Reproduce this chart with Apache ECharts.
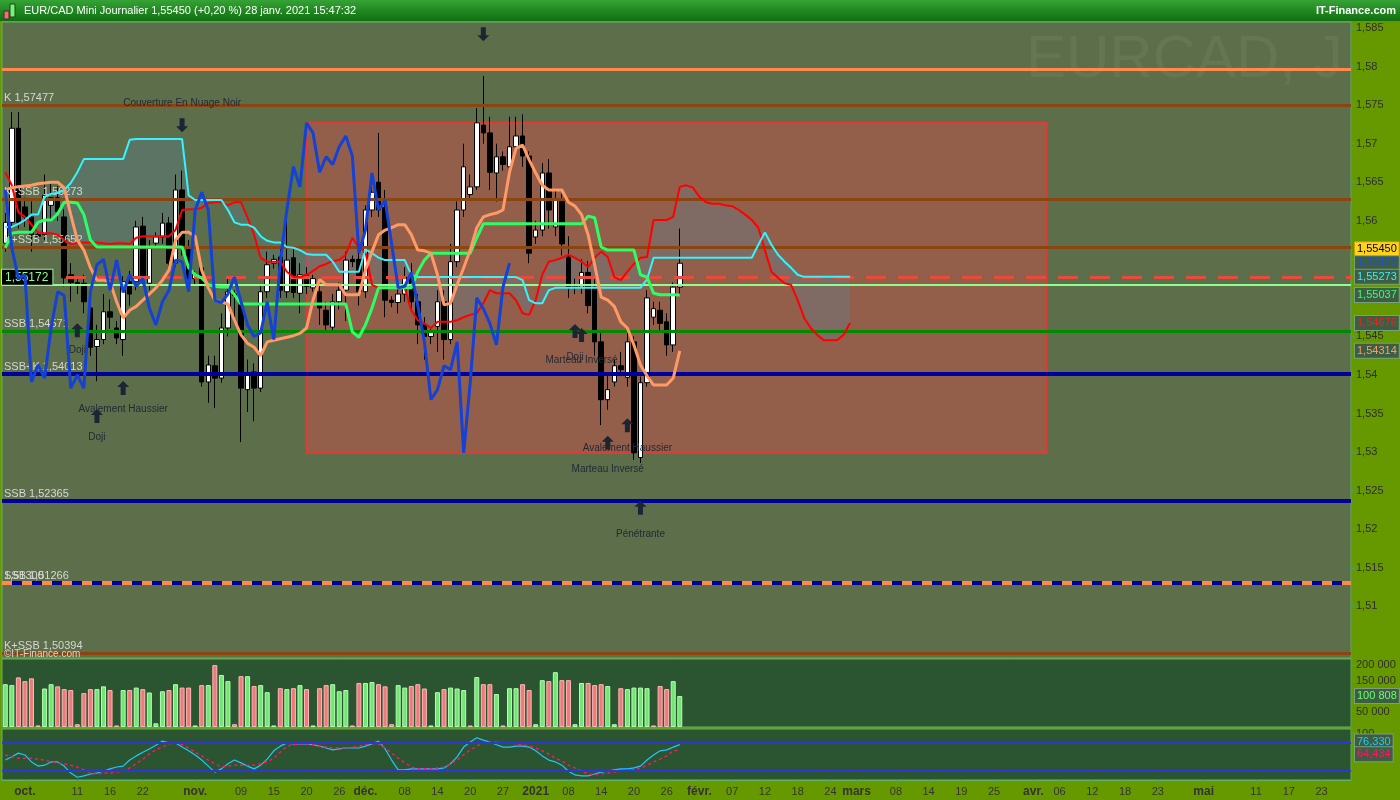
<!DOCTYPE html>
<html><head><meta charset="utf-8">
<script src="https://cdn.jsdelivr.net/npm/echarts@6/dist/echarts.min.js"></script>
<style>html,body{margin:0;padding:0;background:#669900;}#c{width:1400px;height:800px;}</style>
</head><body><div id="c"></div>
<script>
// ---------- DATA ----------
const opens = [1.5571,1.5598,1.5720,1.5618,1.5605,1.5582,1.5582,1.5620,1.5630,1.5605,
1.5530,1.5520,1.5519,1.5487,1.5437,1.5446,1.5482,1.5461,1.5446,1.5521,
1.5521,1.5593,1.5519,1.5571,1.5579,1.5597,1.5545,1.5640,1.5565,1.5525,
1.5539,1.5391,1.5412,1.5396,1.5461,1.5505,1.5491,1.5381,1.5404,1.5383,
1.5508,1.5545,1.5553,1.5508,1.5552,1.5506,1.5530,1.5513,1.5508,1.5484,
1.5462,1.5495,1.5510,1.5550,1.5550,1.5508,1.5614,1.5650,1.5617,1.5497,
1.5494,1.5505,1.5527,1.5495,1.5465,1.5450,1.5463,1.5495,1.5446,1.5547,
1.5614,1.5634,1.5644,1.5724,1.5714,1.5662,1.5683,1.5670,1.5696,1.5710,
1.5684,1.5579,1.5588,1.5662,1.5592,1.5625,1.5553,1.5513,1.5514,1.5533,
1.5514,1.5443,1.5368,1.5391,1.5412,1.5397,1.5443,1.5293,1.5390,1.5475,
1.5484,1.5469,1.5439,1.5514];
const closes = [1.5598,1.5720,1.5598,1.5605,1.5582,1.5580,1.5633,1.5630,1.5612,1.5526,
1.5520,1.5518,1.5495,1.5436,1.5446,1.5482,1.5475,1.5448,1.5521,1.5505,
1.5592,1.5526,1.5565,1.5579,1.5597,1.5545,1.5640,1.5565,1.5525,1.5530,
1.5391,1.5413,1.5396,1.5461,1.5508,1.5503,1.5383,1.5400,1.5383,1.5508,
1.5543,1.5550,1.5510,1.5549,1.5507,1.5530,1.5515,1.5525,1.5487,1.5465,
1.5495,1.5510,1.5549,1.5547,1.5508,1.5614,1.5637,1.5614,1.5497,1.5494,
1.5505,1.5527,1.5495,1.5465,1.5450,1.5455,1.5495,1.5446,1.5547,1.5614,
1.5670,1.5644,1.5727,1.5714,1.5663,1.5683,1.5673,1.5696,1.5710,1.5684,
1.5558,1.5588,1.5662,1.5614,1.5627,1.5570,1.5513,1.5515,1.5533,1.5490,
1.5443,1.5368,1.5381,1.5412,1.5407,1.5443,1.5299,1.5390,1.5500,1.5486,
1.5467,1.5439,1.5514,1.5545];
const highs = [1.5610,1.5741,1.5741,1.5630,1.5625,1.5586,1.5660,1.5648,1.5645,1.5615,
1.5545,1.5525,1.5530,1.5500,1.5465,1.5505,1.5498,1.5470,1.5528,1.5535,
1.5600,1.5605,1.5575,1.5585,1.5610,1.5605,1.5660,1.5665,1.5575,1.5535,
1.5545,1.5425,1.5425,1.5480,1.5525,1.5510,1.5498,1.5420,1.5415,1.5515,
1.5560,1.5556,1.5565,1.5600,1.5565,1.5545,1.5540,1.5530,1.5520,1.5495,
1.5505,1.5520,1.5560,1.5555,1.5560,1.5620,1.5660,1.5714,1.5640,1.5502,
1.5515,1.5540,1.5545,1.5505,1.5475,1.5460,1.5510,1.5510,1.5570,1.5625,
1.5700,1.5660,1.5746,1.5788,1.5735,1.5700,1.5690,1.5735,1.5735,1.5738,
1.5690,1.5600,1.5675,1.5680,1.5640,1.5635,1.5580,1.5525,1.5550,1.5548,
1.5525,1.5455,1.5400,1.5420,1.5430,1.5460,1.5450,1.5398,1.5510,1.5495,
1.5495,1.5480,1.5520,1.5590];
const lows = [1.5560,1.5592,1.5590,1.5592,1.5560,1.5576,1.5575,1.5600,1.5600,1.5515,
1.5495,1.5505,1.5480,1.5425,1.5392,1.5440,1.5460,1.5440,1.5425,1.5490,
1.5510,1.5515,1.5510,1.5565,1.5570,1.5535,1.5540,1.5555,1.5510,1.5518,
1.5385,1.5364,1.5357,1.5390,1.5450,1.5470,1.5313,1.5352,1.5340,1.5378,
1.5500,1.5538,1.5500,1.5500,1.5500,1.5480,1.5505,1.5508,1.5465,1.5455,
1.5455,1.5485,1.5470,1.5540,1.5490,1.5500,1.5605,1.5605,1.5475,1.5488,
1.5480,1.5495,1.5485,1.5440,1.5420,1.5440,1.5430,1.5420,1.5440,1.5540,
1.5605,1.5628,1.5640,1.5700,1.5640,1.5625,1.5665,1.5660,1.5685,1.5670,
1.5545,1.5570,1.5580,1.5590,1.5580,1.5555,1.5500,1.5505,1.5505,1.5480,
1.5425,1.5335,1.5355,1.5385,1.5400,1.5385,1.5290,1.5286,1.5385,1.5465,
1.5455,1.5425,1.5430,1.5505];
const volumes = [139000,136000,161000,149000,158000,5000,125000,139000,132000,123000,
120000,9000,110000,123000,123000,132000,120000,5000,120000,120000,
128000,123000,112000,12000,116000,120000,139000,128000,128000,5000,
136000,136000,201000,169000,149000,9000,165000,165000,133000,136000,
113000,5000,126000,123000,126000,136000,123000,5000,126000,136000,
139000,116000,120000,5000,143000,143000,146000,139000,132000,9000,
136000,128000,133000,139000,125000,5000,113000,123000,128000,125000,
120000,5000,162000,139000,139000,107000,5000,126000,126000,139000,
120000,9000,152000,149000,178000,152000,152000,9000,143000,143000,
136000,139000,133000,9000,126000,123000,128000,128000,126000,5000,
133000,123000,149000,100808];
const volumeUp = [1,1,0,0,0,0,1,1,0,0, 0,0,0,0,1,1,0,0,1,0, 1,0,1,1,1,0,1,0,0,1,
0,1,0,1,1,0,0,1,0,1, 1,1,0,1,0,1,0,1,0,0, 1,1,1,0,0,1,1,0,0,0,
1,1,0,0,0,1,1,0,1,1, 1,0,1,0,0,1,0,1,1,0, 0,1,1,0,1,0,0,1,1,0,
0,0,1,1,0,1,1,1,1,0, 0,0,1,1];
const tenkan = [1.5640,1.5643,1.5644,1.5645,1.5646,1.5648,1.5649,1.5650,1.5650,1.5643,
1.5608,1.5575,1.5562,1.5539,1.5523,1.5523,1.5521,1.5495,1.5474,1.5484,
1.5489,1.5497,1.5505,1.5513,1.5523,1.5536,1.5575,1.5585,1.5585,1.5580,
1.5536,1.5513,1.5497,1.5495,1.5492,1.5471,1.5452,1.5441,1.5436,1.5425,
1.5443,1.5445,1.5447,1.5449,1.5451,1.5454,1.5461,1.5497,1.5524,1.5517,
1.5517,1.5517,1.5504,1.5504,1.5504,1.5536,1.5560,1.5582,1.5588,1.5591,
1.5595,1.5595,1.5582,1.5562,1.5561,1.5558,1.5530,1.5491,1.5493,1.5517,
1.5539,1.5562,1.5591,1.5605,1.5608,1.5610,1.5614,1.5663,1.5694,1.5698,
1.5679,1.5662,1.5646,1.5640,1.5640,1.5640,1.5624,1.5619,1.5608,1.5582,
1.5543,1.5501,1.5497,1.5489,1.5469,1.5461,1.5439,1.5413,1.5399,1.5387,
1.5387,1.5387,1.5396,1.54314];
const kijun = [1.5565,1.5584,1.5585,1.5585,1.5585,1.5598,1.5601,1.5601,1.5609,1.5624,
1.5624,1.5623,1.5608,1.5575,1.5566,1.5566,1.5566,1.5566,1.5566,1.5566,
1.5566,1.5566,1.5566,1.5566,1.5566,1.5566,1.5566,1.5566,1.5539,1.5530,
1.5526,1.5517,1.5515,1.5514,1.5514,1.5504,1.5492,1.5492,1.5492,1.5492,
1.5492,1.5492,1.5492,1.5492,1.5492,1.5492,1.5492,1.5492,1.5492,1.5492,
1.5492,1.5492,1.5492,1.5456,1.5449,1.5465,1.5487,1.5513,1.5513,1.5513,
1.5513,1.5513,1.5513,1.5534,1.5549,1.5558,1.5558,1.5558,1.5558,1.5558,
1.5558,1.5558,1.5578,1.5596,1.5596,1.5596,1.5596,1.5596,1.5596,1.5596,
1.5596,1.5596,1.5596,1.5596,1.5596,1.5596,1.5596,1.5596,1.5596,1.5606,
1.5604,1.5566,1.5562,1.5562,1.5562,1.5562,1.5562,1.5530,1.5527,1.5506,
1.5504,1.5504,1.5504,1.55037];
const senkouA = [1.5663,1.5646,1.5611,1.5605,1.5595,1.5585,1.5584,1.5584,1.5582,1.5575,
1.5570,1.5571,1.5572,1.5572,1.5572,1.5571,1.5570,1.5571,1.5571,1.5570,
1.5578,1.5580,1.5580,1.5580,1.5580,1.5580,1.5588,1.5614,1.5615,1.5615,
1.5617,1.5623,1.5624,1.5624,1.5620,1.5624,1.5624,1.5604,1.5582,1.5552,
1.5547,1.5547,1.5547,1.5534,1.5527,1.5527,1.5530,1.5535,1.5541,1.5544,
1.5548,1.5549,1.5556,1.5578,1.5565,1.5560,1.5517,1.5513,1.5513,1.5513,
1.5513,1.5513,1.5484,1.5471,1.5467,1.5461,1.5469,1.5469,1.5469,1.5471,
1.5475,1.5478,1.5480,1.5493,1.5510,1.5506,1.5506,1.5506,1.5497,1.5480,
1.5478,1.5497,1.5530,1.5547,1.5549,1.5552,1.5556,1.5552,1.5547,1.5540,
1.5552,1.5560,1.5553,1.5527,1.5523,1.5534,1.5544,1.5552,1.5553,1.5601,
1.5601,1.5601,1.5605,1.5644,1.5646,1.5643,1.5631,1.5624,1.5622,1.5622,
1.5620,1.5619,1.5614,1.5608,1.5601,1.5591,1.5562,1.5534,1.5526,1.5519,
1.5517,1.5497,1.5474,1.5461,1.5452,1.5445,1.5445,1.5445,1.5452,1.54676];
const senkouB = [1.5592,1.5592,1.5596,1.5601,1.5608,1.5608,1.5631,1.5635,1.5636,1.5640,
1.5649,1.5663,1.5680,1.5680,1.5680,1.5680,1.5680,1.5680,1.5680,1.5705,
1.5706,1.5706,1.5706,1.5706,1.5706,1.5706,1.5706,1.5706,1.5633,1.5627,
1.5627,1.5627,1.5627,1.5627,1.5614,1.5598,1.5595,1.5595,1.5591,1.5580,
1.5574,1.5572,1.5572,1.5566,1.5565,1.5562,1.5557,1.5556,1.5556,1.5556,
1.5547,1.5534,1.5534,1.5534,1.5534,1.5563,1.5558,1.5552,1.5549,1.5549,
1.5549,1.5549,1.5530,1.5527,1.5527,1.5527,1.5527,1.5527,1.5527,1.5527,
1.5527,1.5527,1.5527,1.5527,1.5527,1.5527,1.5527,1.5527,1.5527,1.5523,
1.5497,1.5493,1.5493,1.5510,1.5513,1.5513,1.5513,1.5513,1.5513,1.5513,
1.5513,1.5513,1.5513,1.5513,1.5513,1.5513,1.5513,1.5513,1.5524,1.5552,
1.5552,1.5552,1.5552,1.5552,1.5552,1.5552,1.5552,1.5552,1.5552,1.5552,
1.5552,1.5552,1.5552,1.5552,1.5552,1.5569,1.5585,1.5569,1.5556,1.5547,
1.5539,1.5530,1.55273,1.55273,1.55273,1.55273,1.55273,1.55273,1.55273,1.55273];
const stochK = [43,50,58,54,39,30,32,39,39,30, 15,6,9,13,15,19,24,28,30,43,
52,60,67,75,84,80,80,71,63,54, 43,30,17,24,35,43,37,30,24,32,
45,63,73,80,78,78,78,76,73,69, 65,67,69,69,69,73,78,84,67,43,
22,22,24,24,24,24,24,26,35,50, 71,82,91,86,82,76,71,71,73,73,
71,63,52,43,39,32,19,11,9,9, 13,17,19,22,24,24,26,30,43,54,
63,65,71,76.33];
const stochD = [54,50,47,47,47,45,43,39,37,35, 32,28,22,15,13,15,15,17,19,26,
35,45,56,65,71,78,80,76,69,60, 52,43,35,28,30,32,32,32,32,35,
39,47,60,73,76,78,78,76,73,71, 69,69,69,71,73,76,78,78,69,58,
47,37,28,24,24,24,26,28,35,43, 54,65,73,80,82,82,80,80,78,76,
73,69,63,56,47,41,32,26,19,13, 11,13,15,17,19,22,22,26,32,39,
45,52,63,64.434];
const chikouShift = 26;
const slotCount = 206;
const xTickLabels = [[3,'oct.'],[11,'11'],[16,'16'],[21,'22'],[29,'nov.'],[36,'09'],[41,'15'],[46,'20'],[51,'26'],
[55,'déc.'],[61,'08'],[66,'14'],[71,'20'],[76,'27'],[81,'2021'],[86,'08'],[91,'14'],[96,'20'],[101,'26'],
[106,'févr.'],[111,'07'],[116,'12'],[121,'18'],[126,'24'],[130,'mars'],[136,'08'],[141,'14'],[146,'19'],[151,'25'],
[157,'avr.'],[161,'06'],[166,'12'],[171,'18'],[176,'23'],[183,'mai'],[191,'11'],[196,'17'],[201,'23']];
const boldLabels = ['oct.','nov.','déc.','2021','févr.','mars','avr.','mai'];
const priceTicks = [1.51,1.515,1.52,1.525,1.53,1.535,1.54,1.545,1.55,1.555,1.56,1.565,1.57,1.575,1.58,1.585];
const volumeTicks = [50000,100000,150000,200000];
const oscTicks = [100];
const oscLevels = [80,20];
const levels = [
  {value:1.5797, text:'', kind:'orange'},
  {value:1.5750, text:'K 1,57477', kind:'brown'},
  {value:1.56273, text:'K+SSB 1,56273', kind:'brown'},
  {value:1.55652, text:'K+SSB 1,55652', kind:'brown'},
  {value:1.5527, text:'', kind:'reddash'},
  {value:1.55172, text:'1,55172', kind:'lightgreen'},
  {value:1.54571, text:'SSB 1,54571', kind:'green'},
  {value:1.54013, text:'SSB+K 1,54013', kind:'navy'},
  {value:1.52365, text:'SSB 1,52365', kind:'navy'},
  {value:1.5130, text:'SSB 1,51266', kind:'navy'},
  {value:1.5130, text:'1,51300', kind:'orangedash'},
  {value:1.50394, text:'K+SSB 1,50394', kind:'brown'}
];
const zone = {from:46, to:159, top:1.5727, bottom:1.5299};
const priceTags = [
  {value:1.5545, kind:'last'}, {value:1.5545, kind:'chikou'}, {value:1.55273, kind:'ssb'},
  {value:1.55037, kind:'kijun'}, {value:1.54676, kind:'ssa'}, {value:1.54314, kind:'tenkan'}
];
const annotations = [
  {i:27, price:1.5724, dir:'down', text:'Couverture En Nuage Noir', gap:10},
  {i:73, price:1.5842, dir:'down', text:'', gap:10},
  {i:11, price:1.5458, dir:'up', text:'Doji', gap:8},
  {i:18, price:1.5383, dir:'up', text:'Avalement Haussier', gap:9},
  {i:14, price:1.5347, dir:'up', text:'Doji', gap:9},
  {i:87, price:1.5457, dir:'up', text:'Doji', gap:14},
  {i:88, price:1.5452, dir:'up', text:'Marteau Inversé', gap:13},
  {i:95, price:1.5335, dir:'up', text:'Avalement Haussier', gap:11},
  {i:92, price:1.5312, dir:'up', text:'Marteau Inversé', gap:14},
  {i:97, price:1.5228, dir:'up', text:'Pénétrante', gap:15}
];

// ---------- STYLES ----------
const FONT = "'Liberation Sans', Arial, sans-serif";
const levelStyles = {
  orange: {color:'#ff8a4c', width:3, type:'solid'},
  brown: {color:'#8a4510', width:3, type:'solid'},
  reddash: {color:'#e84a3c', width:3, type:[20,12]},
  lightgreen: {color:'#8cff8c', width:2, type:'solid'},
  green: {color:'#008a00', width:3, type:'solid'},
  navy: {color:'#00009c', width:4, type:'solid'},
  orangedash: {color:'#ff8a4c', width:4, type:[10,10]}
};
const tagStyles = {
  last: {bg:'#ffd21f', fg:'#000000', border:'#c8a000', offset:-14},
  chikou: {bg:'#3c5e44', fg:'#1c4cff', border:'#79a079', offset:0},
  ssb: {bg:'#3c5e44', fg:'#35f0ff', border:'#79a079', offset:0},
  kijun: {bg:'#3c5e44', fg:'#3cff6a', border:'#79a079', offset:0},
  ssa: {bg:'#3c5e44', fg:'#ff1a1a', border:'#79a079', offset:0},
  tenkan: {bg:'#3c5e44', fg:'#ff9a66', border:'#79a079', offset:0}
};
const fmtPrice5 = v => v.toFixed(5).replace('.', ',');
const fmtThousands = v => String(Math.round(v)).replace(/\B(?=(\d{3})+(?!\d))/g, ' ');

// ---------- BUILD ----------
const cats = Array.from({length: slotCount}, (_, i) => String(i));
const labelMap = {};
xTickLabels.forEach(([i, t]) => { labelMap[i] = t; });
const candleData = opens.map((o, i) => [o, closes[i], lows[i], highs[i]]);
const chikou = closes.slice(chikouShift);
const cloudBase = senkouA.map((a, i) => Math.min(a, senkouB[i]));
const cloudBand = senkouA.map((a, i) => Math.abs(a - senkouB[i]));
const volData = volumes.map((v, i) => ({
  value: v,
  itemStyle: volumeUp[i] ? {color:'#74e474', borderColor:'#b4ffb4', borderWidth:1}
                         : {color:'#ec7c7c', borderColor:'#ffb8b8', borderWidth:1}
}));
const arrowPath = 'path://M6,0 L12,6 L8.5,6 L8.5,14 L3.5,14 L3.5,6 L0,6 Z';

const levelLines = levels.map(l => {
  const st = levelStyles[l.kind];
  const item = {yAxis: l.value, lineStyle: {color: st.color, width: st.width, type: st.type}};
  if (l.kind === 'lightgreen') {
    item.label = {show:true, position:'insideStartTop', distance:0, formatter:l.text, color:'#8cff8c',
      backgroundColor:'#000000', borderColor:'#8cff8c', borderWidth:1, padding:[2,4,1,3], fontSize:12, fontFamily:FONT};
  } else if (l.text) {
    item.label = {show:true, position:'insideStartTop', distance:[2,2], formatter:l.text, color:'#d6d6d6', fontSize:11, fontFamily:FONT};
  } else {
    item.label = {show:false};
  }
  return item;
});

const tagLine = (value, text, st) => ({
  yAxis: value, lineStyle: {width:1, color:'rgba(0,0,0,0)'},
  label: {show:true, position:'end', distance:4, formatter:text, color:st.fg, backgroundColor:st.bg,
    borderColor:st.border, borderWidth:1, padding:[2,2,1,2], fontSize:11, fontFamily:FONT, offset:[0, st.offset||0]}
});

const priceTagLines = priceTags.map(t => tagLine(t.value, fmtPrice5(t.value), tagStyles[t.kind]));

const annotationPoints = annotations.map(a => ({
  coord: [a.i, a.price], symbol: arrowPath, symbolSize: [12,14], symbolRotate: a.dir === 'down' ? 180 : 0,
  itemStyle: {color:'#1b2634'},
  label: {show: !!a.text, formatter: a.text, position: a.dir === 'down' ? 'top' : 'bottom', distance: a.gap,
    color:'#232a36', fontSize:10, fontFamily:FONT}
}));

const hiddenX = (gi) => ({type:'category', gridIndex:gi, data:cats, boundaryGap:true, show:false});

const option = {
  animation: false,
  backgroundColor: '#669900',
  grid: [
    {left:2, right:49, top:22, height:636, show:true, backgroundColor:'#5c6e4a', borderColor:'#62b262', borderWidth:1},
    {left:2, right:49, top:659, height:68, show:true, backgroundColor:'#2b5431', borderColor:'#62b262', borderWidth:1},
    {left:2, right:49, top:729, height:51, show:true, backgroundColor:'#2b5431', borderColor:'#62b262', borderWidth:1}
  ],
  xAxis: [
    hiddenX(0), hiddenX(1),
    {type:'category', gridIndex:2, data:cats, boundaryGap:true,
      axisLine:{show:true, lineStyle:{color:'#62b262'}},
      axisTick:{show:true, alignWithLabel:true, length:4, lineStyle:{color:'#4f9f4f'},
        interval:(idx) => labelMap[idx] !== undefined},
      axisLabel:{show:true, interval:(idx) => labelMap[idx] !== undefined, margin:6,
        color:'#333333', fontSize:11, fontFamily:FONT,
        formatter:(v, idx) => { const t = labelMap[+v]; if (t === undefined) return ''; return boldLabels.includes(t) ? '{b|' + t + '}' : t; },
        rich:{b:{fontWeight:'bold', fontSize:12, color:'#333333', fontFamily:FONT}}},
      splitLine:{show:false}}
  ],
  yAxis: [
    {type:'value', gridIndex:0, position:'right', min:1.5033, max:1.58578, scale:true,
      axisLine:{show:true, lineStyle:{color:'#4a9e6e'}},
      axisTick:{show:true, length:4, customValues:priceTicks, lineStyle:{color:'#4a9e6e'}},
      axisLabel:{show:true, customValues:priceTicks, margin:5, color:'#2e2e2e', fontSize:11, fontFamily:FONT,
        formatter: v => String(+v.toFixed(3)).replace('.', ',')},
      splitLine:{show:false}},
    {type:'value', gridIndex:1, position:'right', min:0, max:220800,
      axisLine:{show:true, lineStyle:{color:'#4a9e6e'}},
      axisTick:{show:true, length:4, customValues:volumeTicks, lineStyle:{color:'#4a9e6e'}},
      axisLabel:{show:true, customValues:volumeTicks, margin:5, color:'#2e2e2e', fontSize:11, fontFamily:FONT,
        formatter: v => fmtThousands(v)},
      splitLine:{show:false}},
    {type:'value', gridIndex:2, position:'right', min:0, max:110,
      axisLine:{show:true, lineStyle:{color:'#4a9e6e'}},
      axisTick:{show:true, length:4, customValues:oscTicks, lineStyle:{color:'#4a9e6e'}},
      axisLabel:{show:true, customValues:oscTicks, margin:5, color:'#2e2e2e', fontSize:11, fontFamily:FONT},
      splitLine:{show:false}}
  ],
  graphic: [
    {type:'rect', z:100, shape:{x:0, y:0, width:1400, height:21},
      style:{fill:new echarts.graphic.LinearGradient(0,0,0,1,[{offset:0,color:'#35a335'},{offset:1,color:'#0f6f0f'}])}},
    {type:'rect', z:101, shape:{x:4, y:11, width:5, height:8}, style:{fill:'#ff6a6a', stroke:'#333', lineWidth:1}},
    {type:'rect', z:101, shape:{x:10, y:4, width:5, height:13}, style:{fill:'#66ff66', stroke:'#333', lineWidth:1}},
    {type:'text', z:101, left:24, top:5, style:{text:'EUR/CAD Mini Journalier 1,55450 (+0,20 %) 28 janv. 2021 15:47:32',
      fill:'#ffffff', fontSize:11, fontFamily:FONT}},
    {type:'text', z:101, right:4, top:5, style:{text:'IT-Finance.com', fill:'#ffffff', fontSize:11, fontWeight:'bold', fontFamily:FONT}},
    {type:'text', z:1, left:1026, top:30, style:{text:'EURCAD, J', fill:'rgba(255,255,255,0.06)', fontSize:60, fontFamily:FONT}},
    {type:'text', z:50, left:4, top:649, style:{text:'©IT-Finance.com', fill:'#d6d6d6', fontSize:10, fontFamily:FONT}}
  ],
  series: [
    {name:'zone', type:'line', xAxisIndex:0, yAxisIndex:0, data:[], z:1, silent:true,
      markArea:{silent:true, itemStyle:{color:'#935f4a', borderColor:'#e33a34', borderWidth:2},
        data:[[{xAxis:zone.from, yAxis:zone.top}, {xAxis:zone.to, yAxis:zone.bottom}]]}},
    {name:'cloudBase', type:'line', xAxisIndex:0, yAxisIndex:0, data:cloudBase, stack:'cloud', z:2,
      showSymbol:false, lineStyle:{opacity:0}, silent:true},
    {name:'cloudBand', type:'line', xAxisIndex:0, yAxisIndex:0, data:cloudBand, stack:'cloud', z:2,
      showSymbol:false, lineStyle:{opacity:0}, areaStyle:{color:'rgba(92,128,150,0.5)'}, silent:true},
    {name:'levels', type:'line', xAxisIndex:0, yAxisIndex:0, data:[], z:3,
      markLine:{silent:true, symbol:'none', precision:6, data:levelLines}},
    {name:'candles', type:'candlestick', xAxisIndex:0, yAxisIndex:0, data:candleData, z:4, barWidth:5,
      itemStyle:{color:'#ffffff', color0:'#000000', borderColor:'#000000', borderColor0:'#000000', borderWidth:1},
      markPoint:{silent:true, data:annotationPoints}},
    {name:'ssa', type:'line', xAxisIndex:0, yAxisIndex:0, data:senkouA, z:5, showSymbol:false,
      lineStyle:{color:'#ff0000', width:2}},
    {name:'ssb', type:'line', xAxisIndex:0, yAxisIndex:0, data:senkouB, z:5, showSymbol:false,
      lineStyle:{color:'#33f4ff', width:2}},
    {name:'kijun', type:'line', xAxisIndex:0, yAxisIndex:0, data:kijun, z:5, showSymbol:false,
      lineStyle:{color:'#2cff64', width:3}},
    {name:'tenkan', type:'line', xAxisIndex:0, yAxisIndex:0, data:tenkan, z:5, showSymbol:false,
      lineStyle:{color:'#ff9966', width:3}},
    {name:'chikou', type:'line', xAxisIndex:0, yAxisIndex:0, data:chikou, z:5, showSymbol:false,
      lineStyle:{color:'#1442d6', width:3}},
    {name:'priceTags', type:'line', xAxisIndex:0, yAxisIndex:0, data:[], z:6,
      markLine:{silent:true, symbol:'none', precision:6, data:priceTagLines}},
    {name:'volume', type:'bar', xAxisIndex:1, yAxisIndex:1, data:volData, barWidth:5, z:3,
      markLine:{silent:true, symbol:'none', precision:6, data:[tagLine(volumes[volumes.length-1], fmtThousands(volumes[volumes.length-1]),
        {bg:'#3c5e44', fg:'#6cff6c', border:'#79a079', offset:0})]}},
    {name:'stochK', type:'line', xAxisIndex:2, yAxisIndex:2, data:stochK, z:4, showSymbol:false,
      lineStyle:{color:'#1ec8ff', width:1.2},
      markLine:{silent:true, symbol:'none', precision:6, data: oscLevels.map(v => ({yAxis:v, lineStyle:{color:'#2f36d8', width:2, type:'solid'}, label:{show:false}}))}},
    {name:'stochD', type:'line', xAxisIndex:2, yAxisIndex:2, data:stochD, z:4, showSymbol:false,
      lineStyle:{color:'#ff1466', width:1.5, type:[3,3]}},
    {name:'oscTags', type:'line', xAxisIndex:2, yAxisIndex:2, data:[], z:6,
      markLine:{silent:true, symbol:'none', precision:6, data:[
        tagLine(stochK[stochK.length-1], stochK[stochK.length-1].toFixed(3).replace('.', ','), {bg:'#3c5e44', fg:'#1ec8ff', border:'#79a079', offset:-3}),
        tagLine(stochD[stochD.length-1], stochD[stochD.length-1].toFixed(3).replace('.', ','), {bg:'#3c5e44', fg:'#ff1466', border:'#79a079', offset:4})
      ]}}
  ]
};
const chart = echarts.init(document.getElementById('c'));
chart.setOption(option);
</script>
</body></html>
